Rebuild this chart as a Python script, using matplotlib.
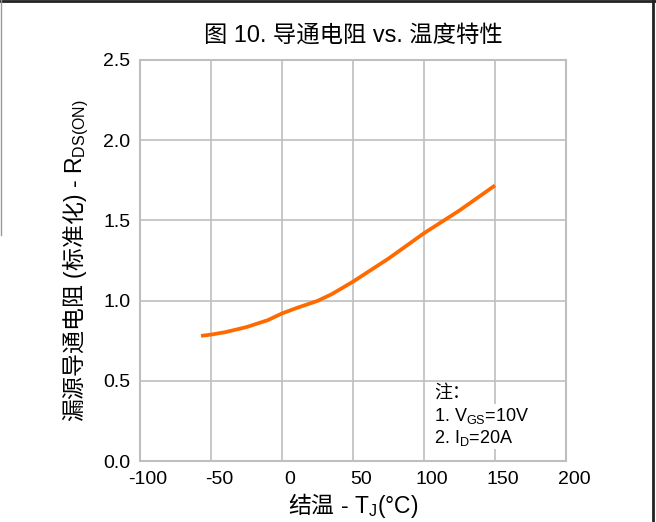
import matplotlib
matplotlib.use("Agg")
import matplotlib.pyplot as plt
import matplotlib.transforms as mtransforms
from matplotlib.lines import Line2D

plt.rcParams['font.family'] = ['Liberation Sans', 'Noto Sans CJK SC', 'DejaVu Sans']
plt.rcParams['mathtext.fontset'] = 'custom'
plt.rcParams['mathtext.rm'] = 'Liberation Sans'
plt.rcParams['mathtext.it'] = 'Liberation Sans'
plt.rcParams['mathtext.sf'] = 'Noto Sans CJK SC'

temps = [-57, -50, -40, -25, -10, 0, 10, 25, 35, 50, 75, 100, 125, 150]
rdson = [0.780, 0.788, 0.803, 0.835, 0.878, 0.920, 0.953, 0.998, 1.040, 1.118, 1.262, 1.420, 1.562, 1.718]

xticks = [-100, -50, 0, 50, 100, 150, 200]
yticks = [0.0, 0.5, 1.0, 1.5, 2.0, 2.5]

title = "图 10. 导通电阻 vs. 温度特性"
xlabel = "$\\mathsf{结温}$ - T$_\\mathrm{J}$(°C)"
ylabel = "$\\mathsf{漏源导通电阻}$ ($\\mathsf{标准化}$) - R$_\\mathrm{DS(ON)}$"
notes = ["注：", "1. V$_\\mathrm{GS}$=10V", "2. I$_\\mathrm{D}$=20A"]

fig = plt.figure(figsize=(6.56, 5.22), dpi=100)
ax = fig.add_axes([140/656, 1-461/522, 426/656, 401/522])

gc = '#bfbfbf'
ax.plot(temps, rdson, color='#ff6a00', lw=2.7, solid_capstyle='butt',
        solid_joinstyle='round', zorder=3)
ax.set_xlim(-100, 200)
ax.set_ylim(0, 2.5)
ax.set_xticks(xticks)
ax.set_xticklabels([str(t) for t in xticks])
ax.set_yticks(yticks)
ax.set_yticklabels([f"{t:.1f}" for t in yticks])
ax.grid(True, color=gc, lw=1.2)
ax.set_axisbelow(True)
for s in ax.spines.values():
    s.set_color(gc)
    s.set_linewidth(1.5)
ax.tick_params(length=0, labelsize=14, pad=7, colors='black')

offset = mtransforms.ScaledTranslation(8/100, 0, fig.dpi_scale_trans)
for lbl in ax.get_xticklabels():
    lbl.set_transform(lbl.get_transform() + offset)

ax.set_title(title, fontsize=16.8, pad=13)
ax.set_xlabel(xlabel, fontsize=16.5, labelpad=2)
ax.set_ylabel(ylabel, fontsize=16.5, labelpad=9)

for i, t in enumerate(notes):
    ax.text(0.69, 0.168 - i*0.055, t, transform=ax.transAxes,
            fontsize=13, va='center', ha='left',
            bbox=dict(facecolor='white', edgecolor='none', pad=1.0), zorder=4)

# figure frame
fig.add_artist(Line2D([0, 1], [1-1/522, 1-1/522], transform=fig.transFigure, color='#222222', lw=2))
fig.add_artist(Line2D([652.5/656, 652.5/656], [0, 1], transform=fig.transFigure, color='#222222', lw=2))
fig.add_artist(Line2D([0.5/656, 0.5/656], [1-235/522, 1], transform=fig.transFigure, color='#999999', lw=1))

fig.savefig("out.png", dpi=100)
